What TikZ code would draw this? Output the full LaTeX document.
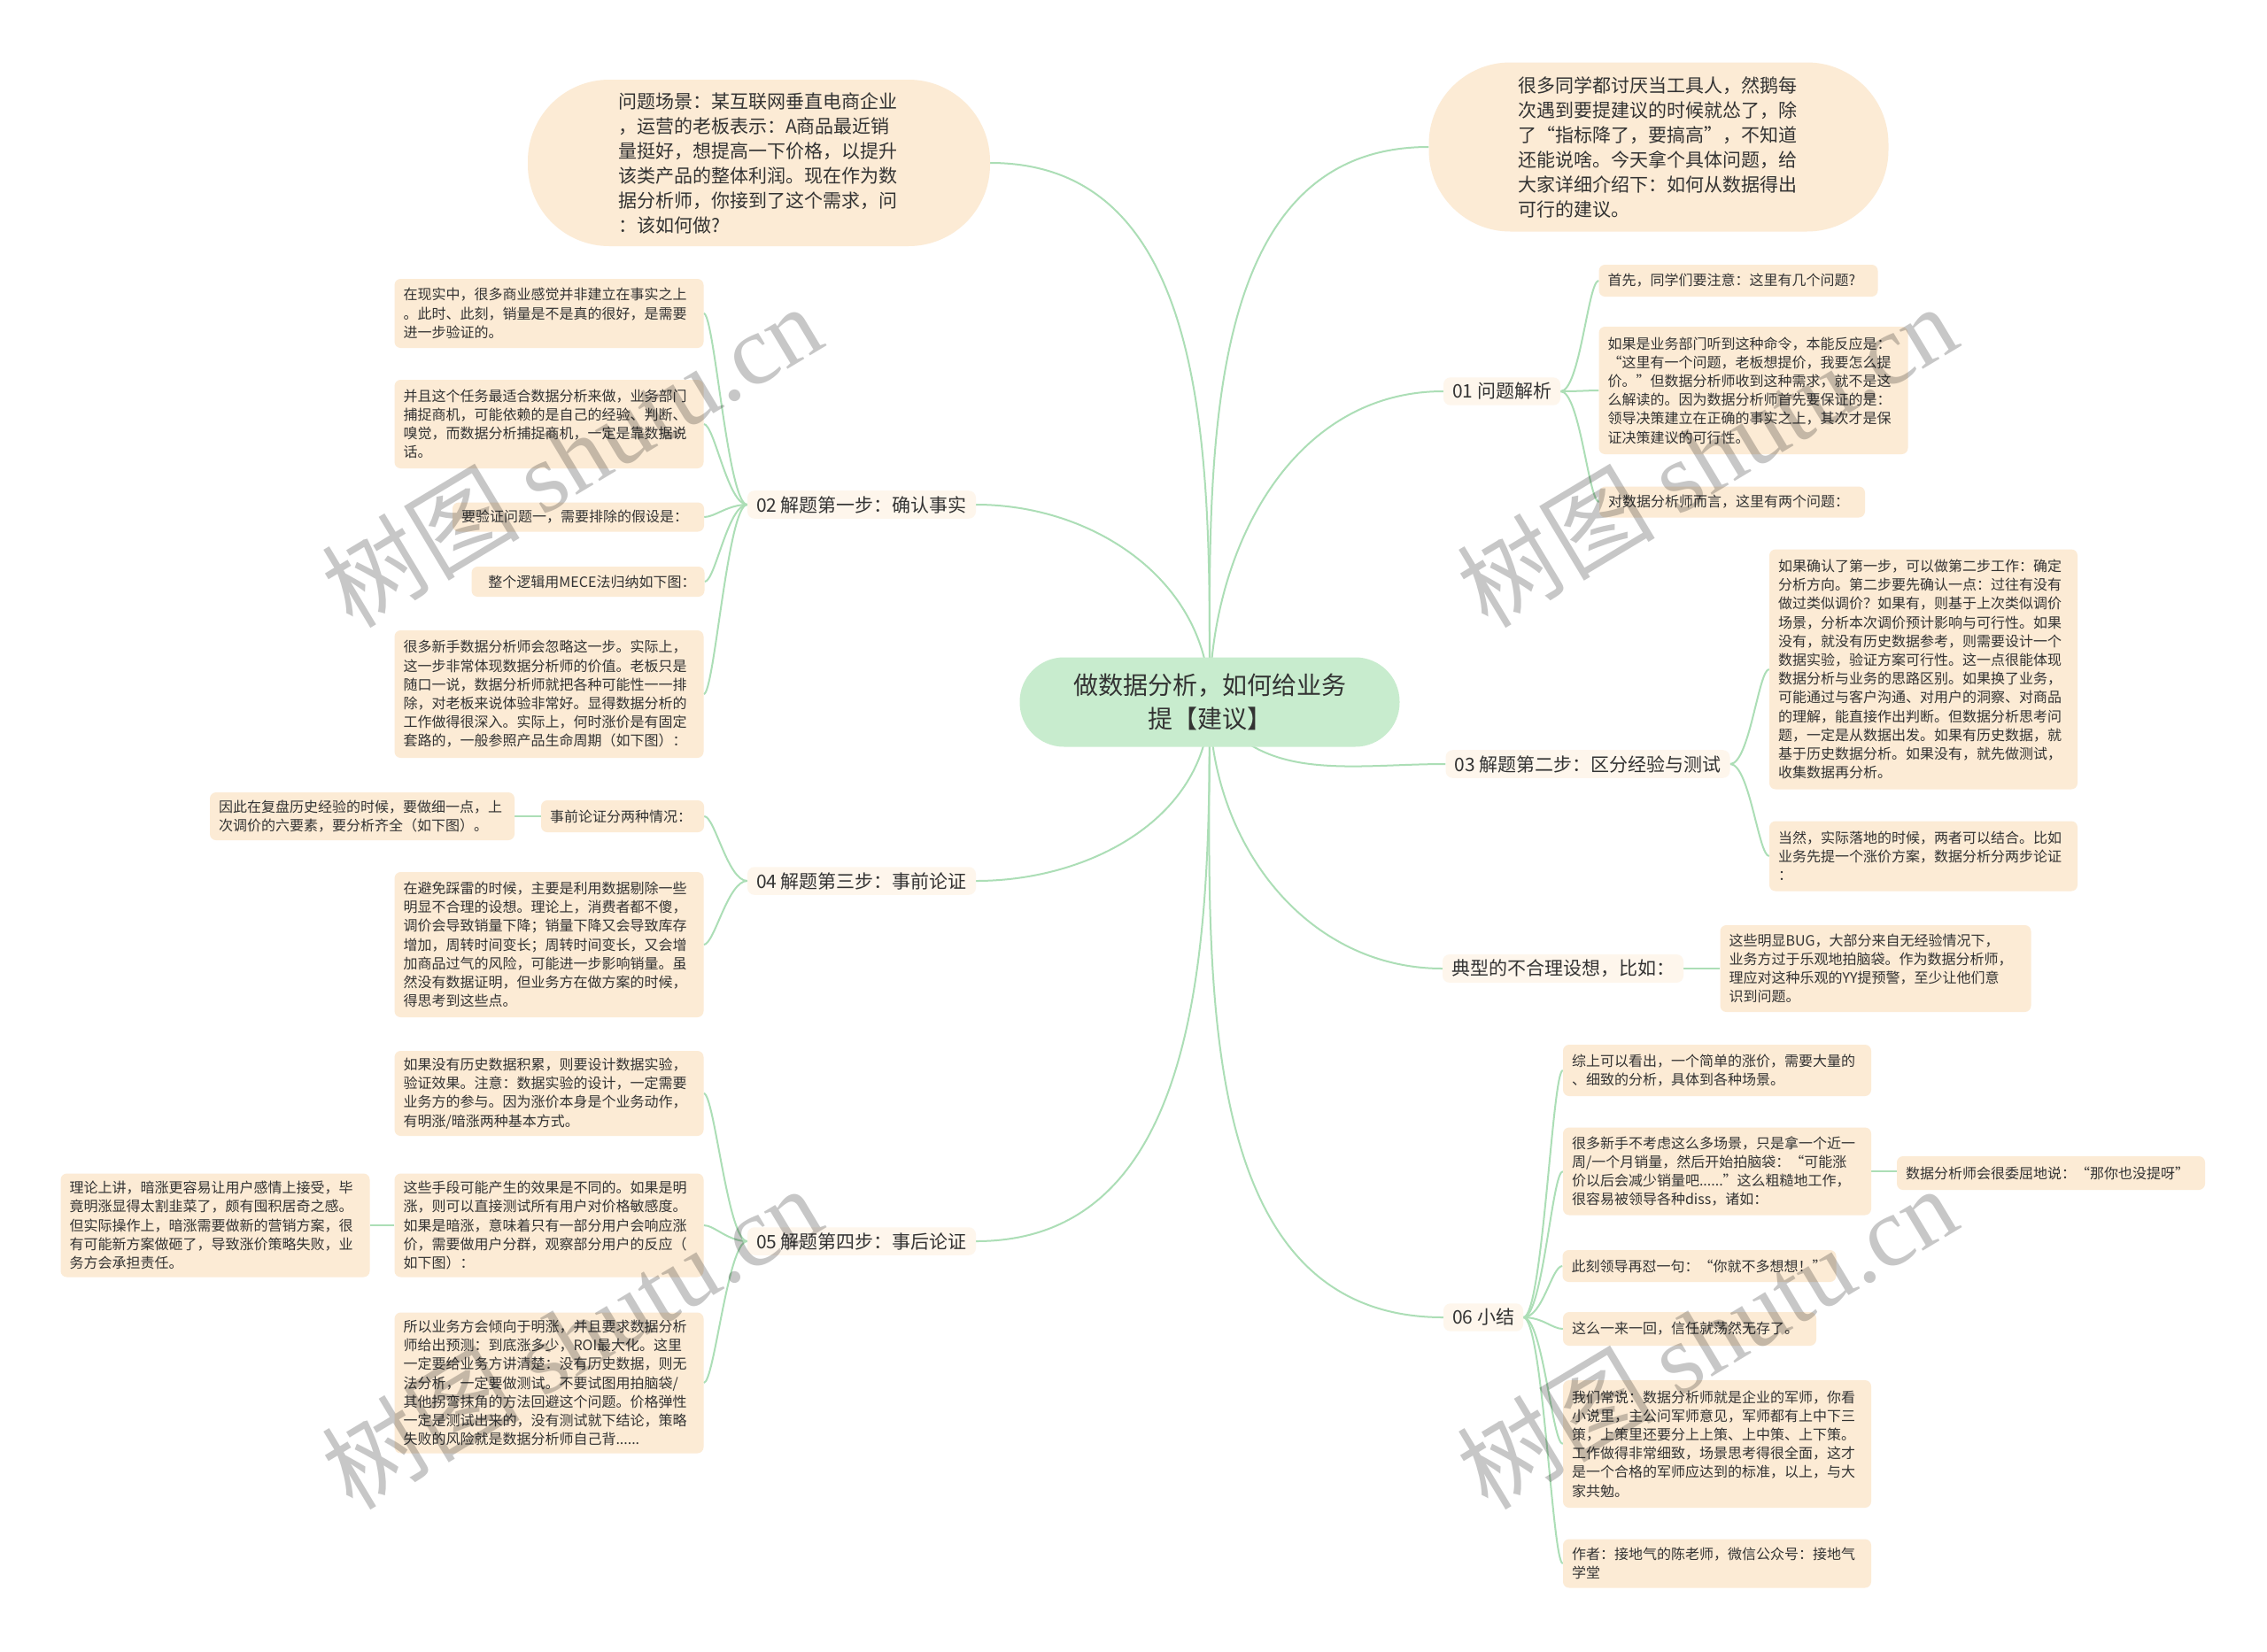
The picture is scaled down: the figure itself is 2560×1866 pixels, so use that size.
\documentclass[tikz,border=0pt]{standalone}
\usepackage{fontspec}
\setmainfont{Noto Sans CJK SC}
\newfontfamily\wmserif{Liberation Serif}
\usetikzlibrary{calc}
\definecolor{boxfill}{RGB}{252,235,213}
\definecolor{labfill}{RGB}{254,246,236}
\definecolor{rootfill}{RGB}{200,236,206}
\definecolor{linkcol}{RGB}{172,222,182}
\definecolor{txt}{RGB}{51,51,51}
\pgfdeclarelayer{background}
\pgfdeclarelayer{backmost}
\pgfsetlayers{backmost,background,main}
\tikzset{
  box/.style={fill=boxfill, rounded corners=7pt, inner xsep=10pt, inner ysep=5pt, align=left, text=txt, font=\fontsize{16}{21.2}\selectfont},
  bubble/.style={fill=boxfill, rounded corners=92pt, inner sep=0pt, align=left, text=txt, font=\fontsize{21}{28}\selectfont},
  lab/.style={fill=labfill, rounded corners=8pt, inner xsep=10pt, inner ysep=6pt, text=txt, font=\fontsize{21}{25}\selectfont},
  rootnode/.style={fill=rootfill, rounded corners=50pt, align=center, text=txt, font=\fontsize{28}{37.5}\selectfont},
  link/.style={draw=linkcol, line width=2pt},
  wm/.style={text=black, text opacity=0.22, font=\fontsize{112}{120}\selectfont, rotate=31}
}
\begin{document}
\begin{tikzpicture}[x=1pt,y=-1pt]
\begin{pgfonlayer}{backmost}
\fill[white] (0,0) rectangle (2560,1866);
\end{pgfonlayer}
\useasboundingbox (0,0) rectangle (2560,1866);

% root
\node[rootnode, minimum width=429pt, minimum height=101pt] (root) at (1366,793) {做数据分析，如何给业务\\提【建议】};

% top bubbles
\node[bubble, minimum width=522pt, minimum height=188pt] (tl) at (857,184) {\begin{minipage}{318pt}\fontsize{21}{28}\selectfont 问题场景：某互联网垂直电商企业\\，运营的老板表示：A商品最近销\\量挺好，想提高一下价格，以提升\\该类产品的整体利润。现在作为数\\据分析师，你接到了这个需求，问\\：该如何做?\end{minipage}};
\node[bubble, minimum width=519pt, minimum height=191pt] (tr) at (1873,166) {\begin{minipage}{318pt}\fontsize{21}{28}\selectfont 很多同学都讨厌当工具人，然鹅每\\次遇到要提建议的时候就怂了，除\\了“指标降了，要搞高”，不知道\\还能说啥。今天拿个具体问题，给\\大家详细介绍下：如何从数据得出\\可行的建议。\end{minipage}};

% left: 02
\node[lab] (l02) at (973,570) {02 解题第一步：确认事实};
\node[box, text width=329pt, minimum height=78pt] (b1) at (620,354) {在现实中，很多商业感觉并非建立在事实之上\\。此时、此刻，销量是不是真的很好，是需要\\进一步验证的。};
\node[box, text width=329pt, minimum height=100pt] (b2) at (620,479) {并且这个任务最适合数据分析来做，业务部门\\捕捉商机，可能依赖的是自己的经验、判断、\\嗅觉，而数据分析捕捉商机，一定是靠数据说\\话。};
\node[box, text width=264pt, minimum height=33pt] (b3) at (653,584) {要验证问题一，需要排除的假设是：};
\node[box, text width=243pt, minimum height=34pt] (b4) at (664,657) {\hfill 整个逻辑用MECE法归纳如下图：};
\node[box, text width=329pt, minimum height=144pt] (b5) at (620,784) {很多新手数据分析师会忽略这一步。实际上，\\这一步非常体现数据分析师的价值。老板只是\\随口一说，数据分析师就把各种可能性一一排\\除，对老板来说体验非常好。显得数据分析的\\工作做得很深入。实际上，何时涨价是有固定\\套路的，一般参照产品生命周期（如下图）：};

% left: 04
\node[lab] (l04) at (973,995) {04 解题第三步：事前论证};
\node[box, text width=164pt, minimum height=36pt] (c1) at (703,922) {事前论证分两种情况：};
\node[box, text width=324pt, minimum height=54pt] (c1a) at (409,922) {因此在复盘历史经验的时候，要做细一点，上\\次调价的六要素，要分析齐全（如下图）。};
\node[box, text width=329pt, minimum height=164pt] (c2) at (620,1067) {在避免踩雷的时候，主要是利用数据剔除一些\\明显不合理的设想。理论上，消费者都不傻，\\调价会导致销量下降；销量下降又会导致库存\\增加，周转时间变长；周转时间变长，又会增\\加商品过气的风险，可能进一步影响销量。虽\\然没有数据证明，但业务方在做方案的时候，\\得思考到这些点。};

% left: 05
\node[lab] (l05) at (973,1402) {05 解题第四步：事后论证};
\node[box, text width=329pt, minimum height=96pt] (d1) at (620,1235) {如果没有历史数据积累，则要设计数据实验，\\验证效果。注意：数据实验的设计，一定需要\\业务方的参与。因为涨价本身是个业务动作，\\有明涨/暗涨两种基本方式。};
\node[box, text width=329pt, minimum height=117pt] (d2) at (620,1384) {这些手段可能产生的效果是不同的。如果是明\\涨，则可以直接测试所有用户对价格敏感度。\\如果是暗涨，意味着只有一部分用户会响应涨\\价，需要做用户分群，观察部分用户的反应（\\如下图）：};
\node[box, text width=329pt, minimum height=117pt] (d2a) at (243,1384) {理论上讲，暗涨更容易让用户感情上接受，毕\\竟明涨显得太割韭菜了，颇有囤积居奇之感。\\但实际操作上，暗涨需要做新的营销方案，很\\有可能新方案做砸了，导致涨价策略失败，业\\务方会承担责任。};
\node[box, text width=329pt, minimum height=159pt] (d3) at (620,1562) {所以业务方会倾向于明涨，并且要求数据分析\\师给出预测：到底涨多少，ROI最大化。这里\\一定要给业务方讲清楚：没有历史数据，则无\\法分析，一定要做测试。不要试图用拍脑袋/\\其他拐弯抹角的方法回避这个问题。价格弹性\\一定是测试出来的，没有测试就下结论，策略\\失败的风险就是数据分析师自己背......};

% right: 01
\node[lab] (r01) at (1696,442) {01 问题解析};
\node[box, text width=295pt, minimum height=36pt] (e1) at (1963,317) {首先，同学们要注意：这里有几个问题?};
\node[box, text width=329pt, minimum height=144pt] (e2) at (1980,441) {如果是业务部门听到这种命令，本能反应是：\\“这里有一个问题，老板想提价，我要怎么提\\价。”但数据分析师收到这种需求，就不是这\\么解读的。因为数据分析师首先要保证的是：\\领导决策建立在正确的事实之上，其次才是保\\证决策建议的可行性。};
\node[box, text width=280pt, minimum height=35pt] (e3) at (1956,567) {对数据分析师而言，这里有两个问题：};

% right: 03
\node[lab] (r03) at (1793,863) {03 解题第二步：区分经验与测试};
\node[box, text width=328pt, minimum height=271pt] (f1) at (2172,756) {如果确认了第一步，可以做第二步工作：确定\\分析方向。第二步要先确认一点：过往有没有\\做过类似调价？如果有，则基于上次类似调价\\场景，分析本次调价预计影响与可行性。如果\\没有，就没有历史数据参考，则需要设计一个\\数据实验，验证方案可行性。这一点很能体现\\数据分析与业务的思路区别。如果换了业务，\\可能通过与客户沟通、对用户的洞察、对商品\\的理解，能直接作出判断。但数据分析思考问\\题，一定是从数据出发。如果有历史数据，就\\基于历史数据分析。如果没有，就先做测试，\\收集数据再分析。};
\node[box, text width=328pt, minimum height=79pt] (f2) at (2172,967) {当然，实际落地的时候，两者可以结合。比如\\业务先提一个涨价方案，数据分析分两步论证\\：};

% right: typical
\node[lab] (rtp) at (1765,1094) {典型的不合理设想，比如：};
\node[box, text width=331pt, minimum height=98pt] (g1) at (2118,1094) {这些明显BUG，大部分来自无经验情况下，\\业务方过于乐观地拍脑袋。作为数据分析师，\\理应对这种乐观的YY提预警，至少让他们意\\识到问题。};

% right: 06
\node[lab] (r06) at (1675,1488) {06 小结};
\node[box, text width=328pt, minimum height=58pt] (h1) at (1939,1209) {综上可以看出，一个简单的涨价，需要大量的\\、细致的分析，具体到各种场景。};
\node[box, text width=328pt, minimum height=99pt] (h2) at (1939,1323) {很多新手不考虑这么多场景，只是拿一个近一\\周/一个月销量，然后开始拍脑袋：“可能涨\\价以后会减少销量吧......”这么粗糙地工作，\\很容易被领导各种diss，诸如：};
\node[box, text width=328pt, minimum height=38pt] (h2a) at (2316,1325) {数据分析师会很委屈地说：“那你也没提呀”};
\node[box, text width=289pt, minimum height=36pt] (h3) at (1919,1430) {此刻领导再怼一句：“你就不多想想！”};
\node[box, text width=266pt, minimum height=38pt] (h4) at (1908,1501) {这么一来一回，信任就荡然无存了。};
\node[box, text width=328pt, minimum height=144pt] (h5) at (1939,1631) {我们常说：数据分析师就是企业的军师，你看\\小说里，主公问军师意见，军师都有上中下三\\策，上策里还要分上上策、上中策、上下策。\\工作做得非常细致，场景思考得很全面，这才\\是一个合格的军师应达到的标准，以上，与大\\家共勉。};
\node[box, text width=328pt, minimum height=55pt] (h6) at (1939,1766) {作者：接地气的陈老师，微信公众号：接地气\\学堂};

\begin{pgfonlayer}{background}
% trunk
\draw[link] (root.center) to[out=90,in=0] (tl.east);
\draw[link] (root.center) to[out=90,in=0] (l02.east);
\draw[link] (root.center) to[out=-90,in=0] (l04.east);
\draw[link] (root.center) to[out=-90,in=0] (l05.east);
\draw[link] (root.center) to[out=90,in=180] (tr.west);
\draw[link] (root.center) to[out=90,in=180] (r01.west);
\draw[link] (root.center) to[out=-60,in=180] (r03.west);
\draw[link] (root.center) to[out=-90,in=180] (rtp.west);
\draw[link] (root.center) to[out=-90,in=180] (r06.west);
% left children
\foreach \c in {b1,b2,b3,b4,b5} \draw[link] (l02.west) .. controls +(-22,0) and +(12,0) .. (\c.east);
\foreach \c in {c1,c2} \draw[link] (l04.west) .. controls +(-22,0) and +(12,0) .. (\c.east);
\foreach \c in {d1,d2,d3} \draw[link] (l05.west) .. controls +(-22,0) and +(12,0) .. (\c.east);
\draw[link] (c1.west) -- (c1a.east |- c1.west);
\draw[link] (d2.west) -- (d2a.east |- d2.west);
% right children
\foreach \c in {e1,e2,e3} \draw[link] (r01.east) .. controls +(22,0) and +(-12,0) .. (\c.west);
\foreach \c in {f1,f2} \draw[link] (r03.east) .. controls +(22,0) and +(-12,0) .. (\c.west);
\draw[link] (rtp.east) .. controls +(22,0) and +(-12,0) .. (g1.west);
\foreach \c in {h1,h2,h3,h4,h5,h6} \draw[link] (r06.east) .. controls +(22,0) and +(-12,0) .. (\c.west);
\draw[link] (h2.east) -- (h2a.west |- h2.east);
\end{pgfonlayer}

% watermarks
\node[wm] (wm1) at (645,514) {树图 {\wmserif shutu.cn}};
\node[wm] (wm2) at (1927,514) {树图 {\wmserif shutu.cn}};
\node[wm] (wm3) at (645,1510) {树图 {\wmserif shutu.cn}};
\node[wm] (wm4) at (1927,1510) {树图 {\wmserif shutu.cn}};
\end{tikzpicture}
\end{document}
